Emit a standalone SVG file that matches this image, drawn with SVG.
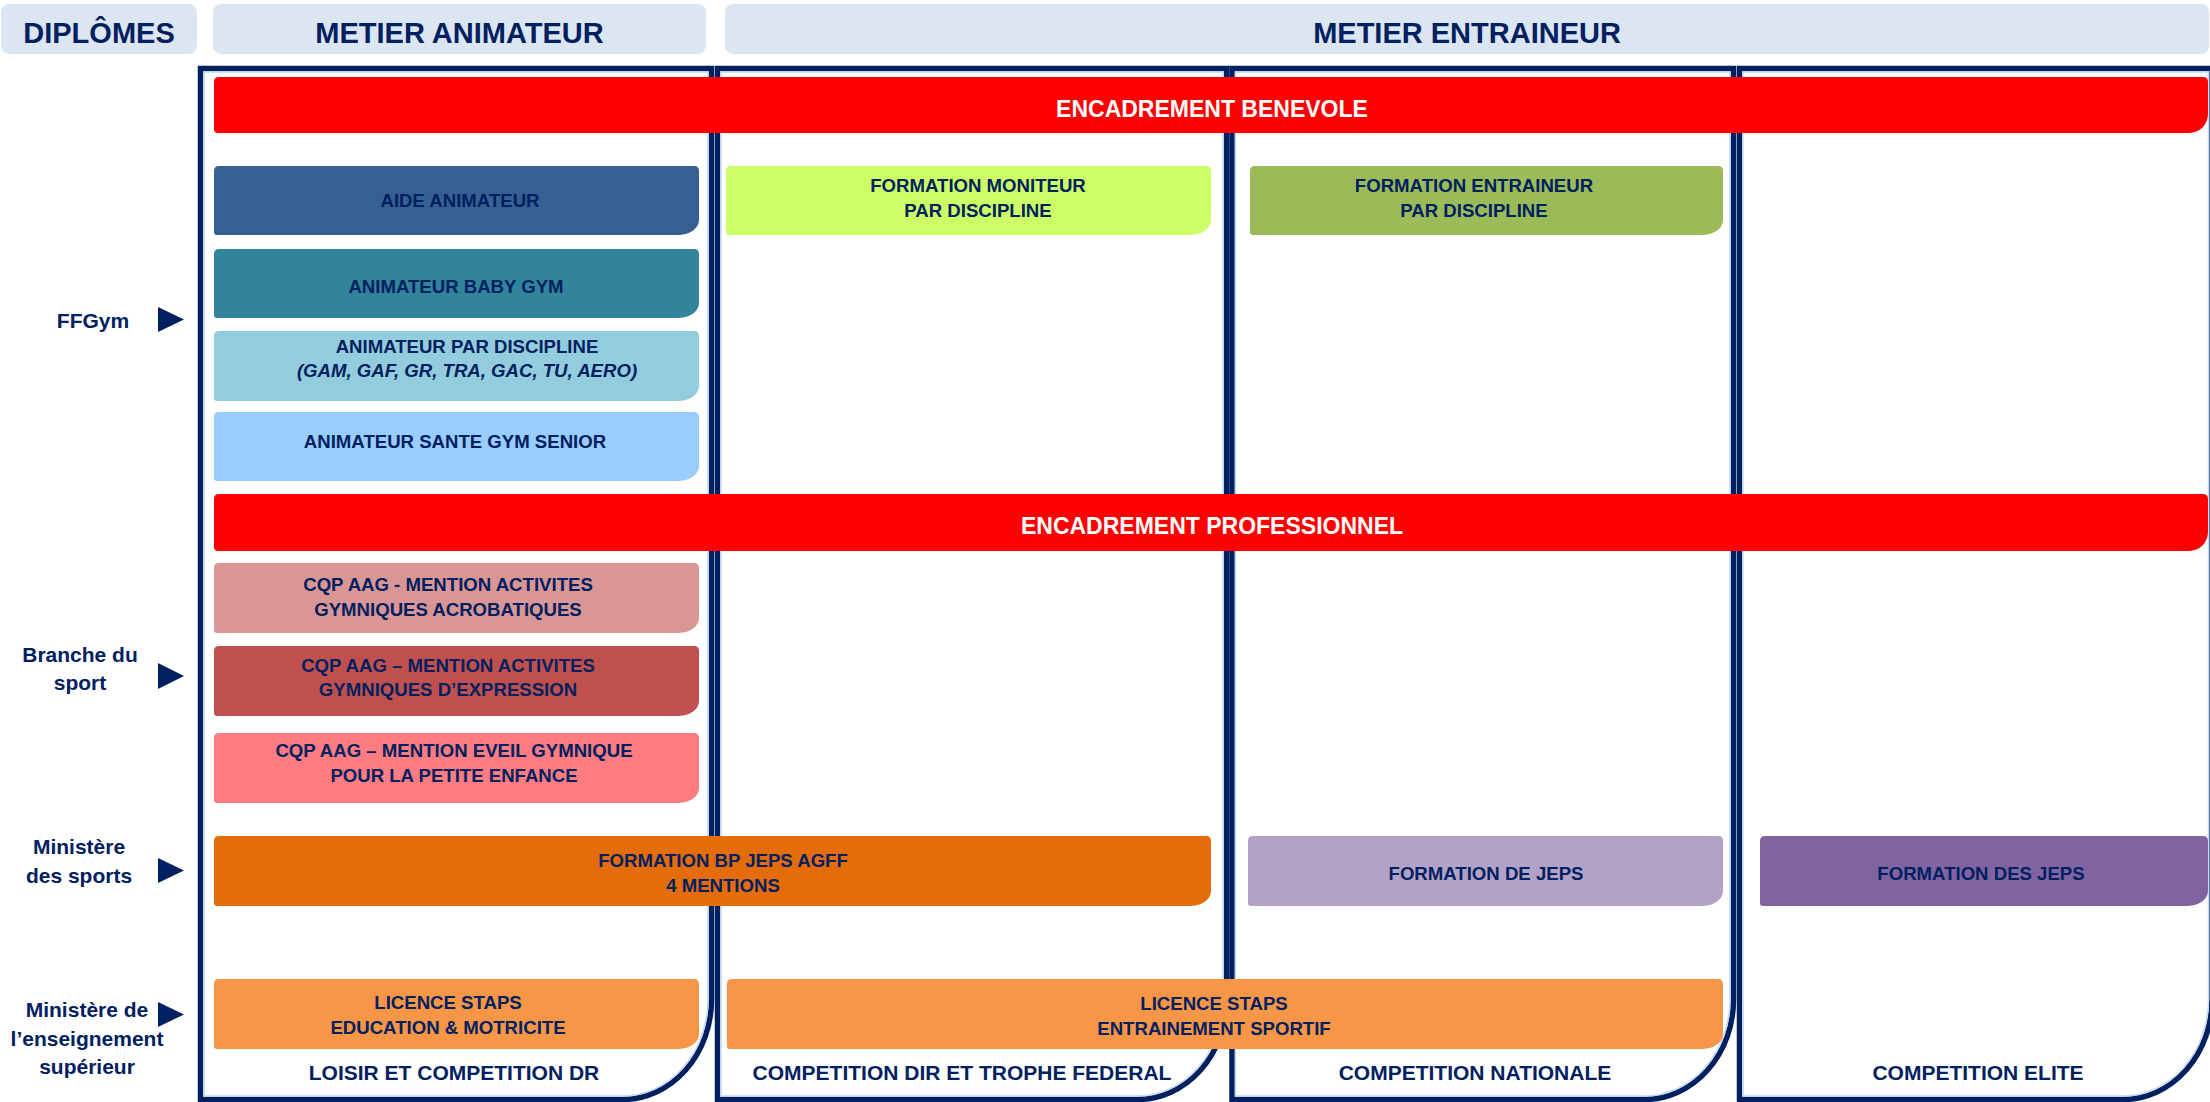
<svg xmlns="http://www.w3.org/2000/svg" width="2210" height="1102" viewBox="0 0 2210 1102">
<style>
text{font-family:"Liberation Sans",Arial,sans-serif;font-weight:bold;fill:#002060;text-anchor:middle}
.h{font-size:29px}
.t{font-size:18.6px}
.w{font-size:23px;fill:#ffffff}
.l{font-size:21px}
.hdr{fill:#dce6f2}
.frame{fill:none;stroke:#002060;stroke-width:5.5}
.inner{fill:none;stroke:#c6d9f1;stroke-width:1.5}
.arrow{fill:#002060}
</style>
<rect width="2210" height="1102" fill="#ffffff"/>

<g id="headers">
<g id="h-diplomes"><rect class="hdr" x="1" y="4" width="196" height="50" rx="8"/><text class="h" x="99" y="43">DIPLÔMES</text></g>
<g id="h-animateur"><rect class="hdr" x="213" y="4" width="493" height="50" rx="8"/><text class="h" x="459.5" y="43">METIER ANIMATEUR</text></g>
<g id="h-entraineur"><rect class="hdr" x="725" y="4" width="1484" height="50" rx="8"/><text class="h" x="1467" y="43">METIER ENTRAINEUR</text></g>
</g>

<g id="columns">
<g id="col1"><path class="frame" d="M200.5,68.5 H711.5 V999.5 A89 100 0 0 1 622.5,1099.5 H200.5 Z"/><path class="inner" d="M204,72 H708 V999.5 A85.5 96.5 0 0 1 622.5,1096 H204 Z"/></g>
<g id="col2"><path class="frame" d="M717.5,68.5 H1226.5 V999.5 A89 100 0 0 1 1137.5,1099.5 H717.5 Z"/><path class="inner" d="M721,72 H1223 V999.5 A85.5 96.5 0 0 1 1137.5,1096 H721 Z"/></g>
<g id="col3"><path class="frame" d="M1232,68.5 H1733.5 V999.5 A89 100 0 0 1 1644.5,1099.5 H1232 Z"/><path class="inner" d="M1235.5,72 H1730 V999.5 A85.5 96.5 0 0 1 1644.5,1096 H1235.5 Z"/></g>
<g id="col4"><path class="frame" d="M1739.5,68.5 H2212 V999.5 A89 100 0 0 1 2123,1099.5 H1739.5 Z"/><path class="inner" d="M1743,72 H2208.5 V999.5 A85.5 96.5 0 0 1 2123,1096 H1743 Z"/></g>
<text class="l" x="454" y="1080">LOISIR ET COMPETITION DR</text>
<text class="l" x="962" y="1080">COMPETITION DIR ET TROPHE FEDERAL</text>
<text class="l" x="1475" y="1080">COMPETITION NATIONALE</text>
<text class="l" x="1978" y="1080">COMPETITION ELITE</text>
</g>

<g id="row-labels">
<g id="lbl-ffgym"><text class="l" x="93" y="328">FFGym</text><polygon class="arrow" points="158,307 184,319.5 158,332"/></g>
<g id="lbl-branche"><text class="l" x="80" y="662">Branche du</text><text class="l" x="80" y="690">sport</text><polygon class="arrow" points="158,663 184,676 158,689"/></g>
<g id="lbl-sports"><text class="l" x="79" y="854">Ministère</text><text class="l" x="79" y="883">des sports</text><polygon class="arrow" points="158,858 184,870.5 158,883"/></g>
<g id="lbl-ens"><text class="l" x="87" y="1017">Ministère de</text><text class="l" x="87" y="1046">l’enseignement</text><text class="l" x="87" y="1074">supérieur</text><polygon class="arrow" points="158,1002 184,1014.5 158,1027"/></g>
</g>

<g id="bars">
<g id="benevole"><path fill="#ff0000" d="M219,77 H2203 Q2208,77 2208,82 V114 A19 19 0 0 1 2189,133 H218 Q214,133 214,129 V82 Q214,77 219,77 Z"/><text class="w" x="1212" y="117">ENCADREMENT BENEVOLE</text></g>
<g id="professionnel"><path fill="#ff0000" d="M219,494 H2203 Q2208,494 2208,499 V532 A19 19 0 0 1 2189,551 H218 Q214,551 214,547 V499 Q214,494 219,494 Z"/><text class="w" x="1212" y="534">ENCADREMENT PROFESSIONNEL</text></g>
</g>

<g id="nodes">
<g id="aide"><path fill="#376092" d="M219,166 H694 Q699,166 699,171 V220 A20 15 0 0 1 679,235 H217 Q214,235 214,232 V171 Q214,166 219,166 Z"/><text class="t" x="460" y="207">AIDE ANIMATEUR</text></g>
<g id="babygym"><path fill="#31849b" d="M219,249 H694 Q699,249 699,254 V303 A20 15 0 0 1 679,318 H217 Q214,318 214,315 V254 Q214,249 219,249 Z"/><text class="t" x="456" y="293">ANIMATEUR BABY GYM</text></g>
<g id="discipline"><path fill="#93cddd" d="M219,331 H694 Q699,331 699,336 V386 A20 15 0 0 1 679,401 H217 Q214,401 214,398 V336 Q214,331 219,331 Z"/><text class="t" x="467" y="353">ANIMATEUR PAR DISCIPLINE</text><text class="t" x="467" y="377" font-style="italic">(GAM, GAF, GR, TRA, GAC, TU, AERO)</text></g>
<g id="sante"><path fill="#99ccff" d="M219,412 H694 Q699,412 699,417 V466 A20 15 0 0 1 679,481 H217 Q214,481 214,478 V417 Q214,412 219,412 Z"/><text class="t" x="455" y="448">ANIMATEUR SANTE GYM SENIOR</text></g>
<g id="moniteur"><path fill="#ccff66" d="M731,166 H1206 Q1211,166 1211,171 V220 A20 15 0 0 1 1191,235 H729 Q726,235 726,232 V171 Q726,166 731,166 Z"/><text class="t" x="978" y="192">FORMATION MONITEUR</text><text class="t" x="978" y="217">PAR DISCIPLINE</text></g>
<g id="entraineur"><path fill="#9bbb59" d="M1255,166 H1718 Q1723,166 1723,171 V220 A20 15 0 0 1 1703,235 H1253 Q1250,235 1250,232 V171 Q1250,166 1255,166 Z"/><text class="t" x="1474" y="192">FORMATION ENTRAINEUR</text><text class="t" x="1474" y="217">PAR DISCIPLINE</text></g>
<g id="cqp1"><path fill="#d99694" d="M219,563 H694 Q699,563 699,568 V618 A20 15 0 0 1 679,633 H217 Q214,633 214,630 V568 Q214,563 219,563 Z"/><text class="t" x="448" y="591">CQP AAG - MENTION ACTIVITES</text><text class="t" x="448" y="616">GYMNIQUES ACROBATIQUES</text></g>
<g id="cqp2"><path fill="#c0504d" d="M219,646 H694 Q699,646 699,651 V701 A20 15 0 0 1 679,716 H217 Q214,716 214,713 V651 Q214,646 219,646 Z"/><text class="t" x="448" y="672">CQP AAG – MENTION ACTIVITES</text><text class="t" x="448" y="696">GYMNIQUES D’EXPRESSION</text></g>
<g id="cqp3"><path fill="#ff7c80" d="M219,733 H694 Q699,733 699,738 V788 A20 15 0 0 1 679,803 H217 Q214,803 214,800 V738 Q214,733 219,733 Z"/><text class="t" x="454" y="757">CQP AAG – MENTION EVEIL GYMNIQUE</text><text class="t" x="454" y="782">POUR LA PETITE ENFANCE</text></g>
<g id="bpjeps"><path fill="#e46c0a" d="M219,836 H1206 Q1211,836 1211,841 V891 A20 15 0 0 1 1191,906 H217 Q214,906 214,903 V841 Q214,836 219,836 Z"/><text class="t" x="723" y="867">FORMATION BP JEPS AGFF</text><text class="t" x="723" y="892">4 MENTIONS</text></g>
<g id="dejeps"><path fill="#b3a2c7" d="M1253,836 H1718 Q1723,836 1723,841 V891 A20 15 0 0 1 1703,906 H1251 Q1248,906 1248,903 V841 Q1248,836 1253,836 Z"/><text class="t" x="1486" y="880">FORMATION DE JEPS</text></g>
<g id="desjeps"><path fill="#8064a2" d="M1765,836 H2203 Q2208,836 2208,841 V891 A20 15 0 0 1 2188,906 H1763 Q1760,906 1760,903 V841 Q1760,836 1765,836 Z"/><text class="t" x="1981" y="880">FORMATION DES JEPS</text></g>
<g id="licence1"><path fill="#f79646" d="M219,979 H694 Q699,979 699,984 V1034 A20 15 0 0 1 679,1049 H217 Q214,1049 214,1046 V984 Q214,979 219,979 Z"/><text class="t" x="448" y="1009">LICENCE STAPS</text><text class="t" x="448" y="1034">EDUCATION &amp; MOTRICITE</text></g>
<g id="licence2"><path fill="#f79646" d="M732,979 H1718 Q1723,979 1723,984 V1034 A20 15 0 0 1 1703,1049 H730 Q727,1049 727,1046 V984 Q727,979 732,979 Z"/><text class="t" x="1214" y="1010">LICENCE STAPS</text><text class="t" x="1214" y="1035">ENTRAINEMENT SPORTIF</text></g>
</g>

<g id="connectors"></g>
</svg>
